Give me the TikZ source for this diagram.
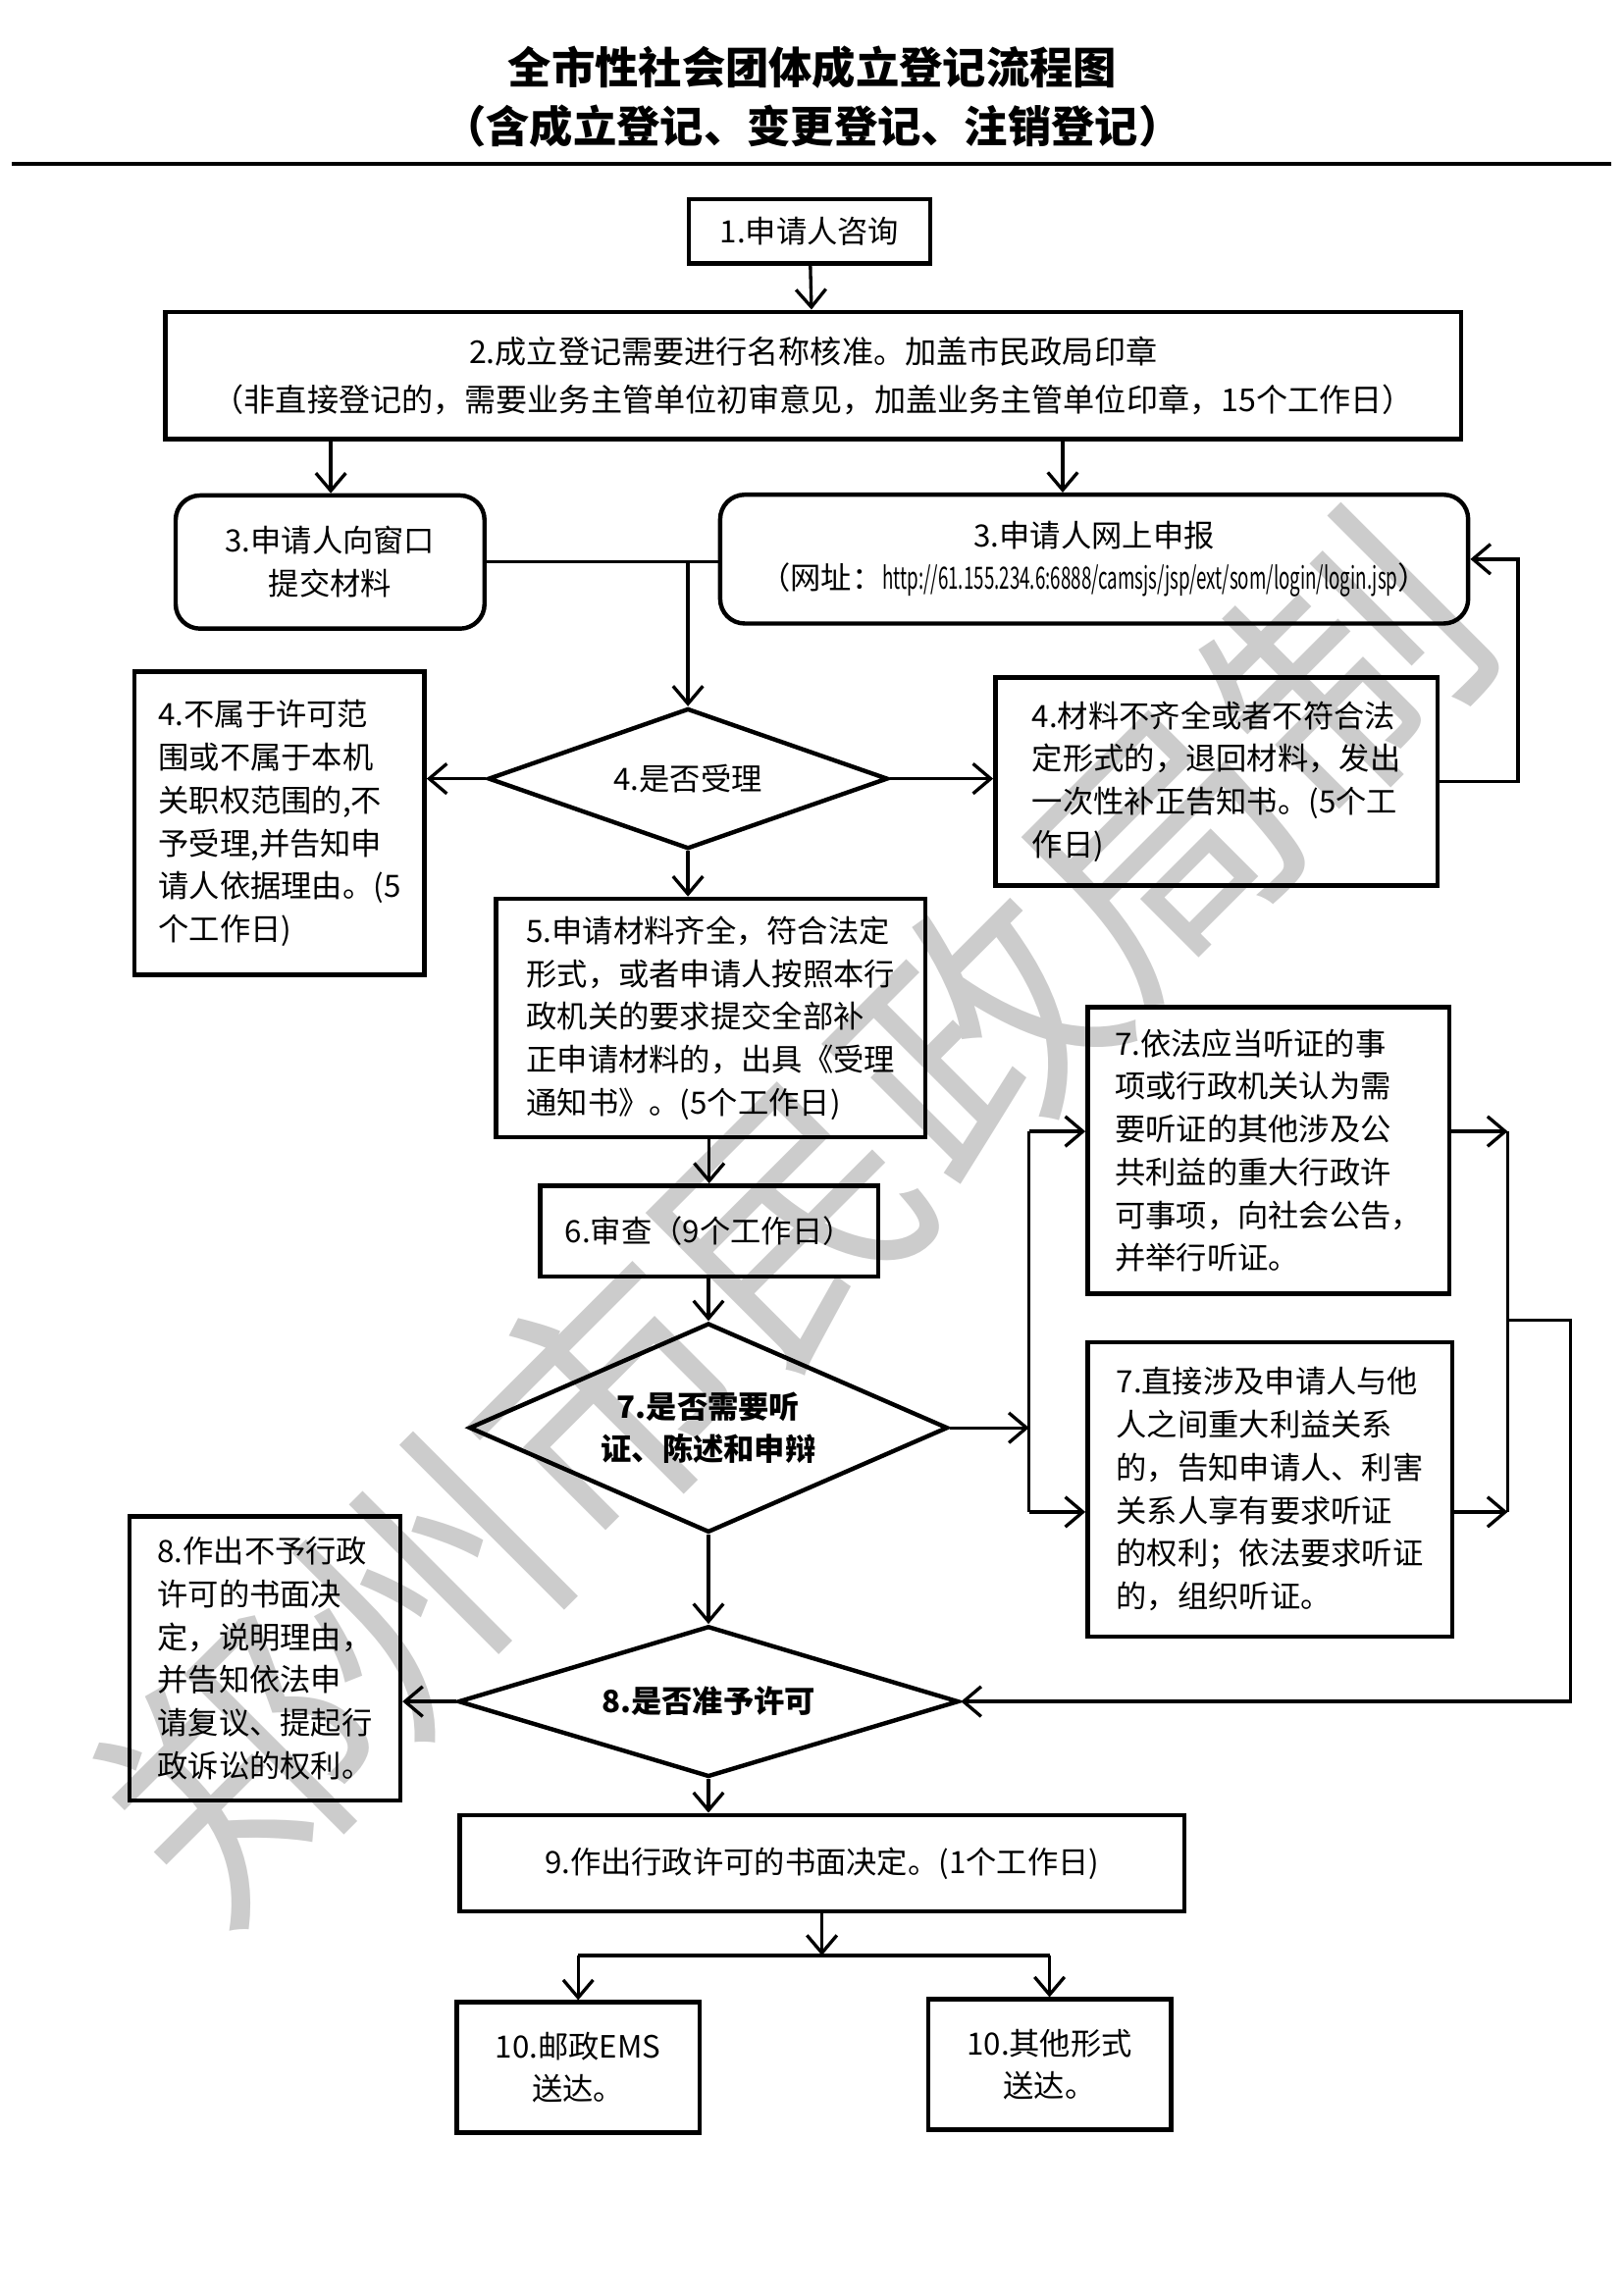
\documentclass[tikz,border=0pt]{standalone}
\usepackage{fontspec}
\setmainfont{Noto Sans CJK SC}
\usepackage{graphicx}
\usetikzlibrary{arrows.meta,positioning,calc,shapes.geometric}

\newlength\einh
\setlength\einh{0.018936cm}
\newcommand{\kastenfont}{\fontsize{11.3}{15.8}\selectfont}

\begin{document}
\begin{tikzpicture}[x=\einh, y=-\einh,
        every node/.style={font=\kastenfont},
        kasten/.style={draw, line width=1.6pt, inner sep=2pt, align=center},
        rkasten/.style={kasten, rounded corners=9pt},
        lkasten/.style={kasten, align=left},
        frage/.style={draw, diamond, line width=1.6pt, inner sep=0pt, align=center},
        pfeil/.style={line width=1.2pt, -{Straight Barb[length=6.5pt,width=11pt]}},
        linie/.style={line width=1.2pt}
      ]
        % feste Seitengroesse (A4)
        \useasboundingbox (0,0) rectangle (1109,1568);

        % Wasserzeichen
        \node[rotate=45, text=black!20, font=\fontsize{96}{96}\selectfont] (wz) at (541,832) {郑州市民政局制};

        % Titel
        \node[align=center, font=\fontsize{16}{21.5}\selectfont\bfseries] (titel) at (555,66)
          {全市性社会团体成立登记流程图\\（含成立登记、变更登记、注销登记）};
        \draw[line width=1.6pt] (8,112) -- (1101,112);

        % Kaesten
        \node[kasten, minimum width=165\einh, minimum height=44\einh] (k1) at (553,158) {1.申请人咨询};
        \node[kasten, minimum width=885\einh, minimum height=87\einh,
              font=\fontsize{11.6}{17.7}\selectfont] (k2) at (555.5,256.5)
          {2.成立登记需要进行名称核准。加盖市民政局印章\\（非直接登记的，需要业务主管单位初审意见，加盖业务主管单位印章，15个工作日）};
        \node[rkasten, minimum width=211\einh, minimum height=91\einh] (k3a) at (225.5,384) {3.申请人向窗口\\提交材料};
        \node[rkasten, minimum width=511\einh, minimum height=88\einh] (k3b) at (747.5,382)
          {3.申请人网上申报\\（网址：\scalebox{0.6}[1]{http://61.155.234.6:6888/camsjs/jsp/ext/som/login/login.jsp}）};

        \node[frage, aspect=2.85, minimum width=273\einh, minimum height=96\einh] (e4) at (470,532) {4.是否受理};
        \node[lkasten, minimum width=198\einh, minimum height=207\einh] (k4a) at (191,562.5)
          {4.不属于许可范\\围或不属于本机\\关职权范围的,不\\予受理,并告知申\\请人依据理由。(5\\个工作日)};
        \node[lkasten, minimum width=302\einh, minimum height=142\einh] (k4b) at (831,534)
          {4.材料不齐全或者不符合法\\定形式的，退回材料，发出\\一次性补正告知书。(5个工\\作日)};

        \node[lkasten, minimum width=293\einh, minimum height=163\einh] (k5) at (485.5,695.5)
          {5.申请材料齐全，符合法定\\形式，或者申请人按照本行\\政机关的要求提交全部补\\正申请材料的，出具《受理\\通知书》。(5个工作日)};
        \node[kasten, minimum width=231\einh, minimum height=62\einh] (k6) at (484.5,841) {6.审查（9个工作日）};

        \node[frage, aspect=2.3, minimum width=327\einh, minimum height=143\einh,
              font=\kastenfont\bfseries] (e7) at (484,975.5) {7.是否需要听\\证、陈述和申辩};
        \node[lkasten, minimum width=247\einh, minimum height=196\einh] (k7a) at (866.5,786)
          {7.依法应当听证的事\\项或行政机关认为需\\要听证的其他涉及公\\共利益的重大行政许\\可事项，向社会公告，\\并举行听证。};
        \node[lkasten, minimum width=249\einh, minimum height=201\einh] (k7b) at (867.5,1017.5)
          {7.直接涉及申请人与他\\人之间重大利益关系\\的，告知申请人、利害\\关系人享有要求听证\\的权利；依法要求听证\\的，组织听证。};

        \node[frage, aspect=3.3, minimum width=342\einh, minimum height=103\einh,
              font=\kastenfont\bfseries] (e8) at (484,1162.5) {8.是否准予许可};
        \node[lkasten, minimum width=185\einh, minimum height=194\einh] (k8) at (181,1133)
          {8.作出不予行政\\许可的书面决\\定，说明理由，\\并告知依法申\\请复议、提起行\\政诉讼的权利。};

        \node[kasten, minimum width=495\einh, minimum height=66\einh] (k9) at (561.5,1273)
          {9.作出行政许可的书面决定。(1个工作日)};
        \node[kasten, minimum width=166\einh, minimum height=89\einh] (k10a) at (395,1412.5) {10.邮政EMS\\送达。};
        \node[kasten, minimum width=166\einh, minimum height=89\einh] (k10b) at (717,1410.5) {10.其他形式\\送达。};

        % Hilfspunkte
        \coordinate (k2l) at (226,0);
        \coordinate (k2r) at (726,0);
        \coordinate (bl) at (703,773);
        \coordinate (bl2) at (703,1033);
        \coordinate (br) at (1030,773);
        \coordinate (br2) at (1030,1033);
        \coordinate (bm) at (1030,902);
        \coordinate (ra) at (1073,902);
        \coordinate (rr) at (1037,0);
        \coordinate (vt) at (561.5,1336);

        % Verbindungen
        \draw[pfeil] (k1) -- (k2);
        \draw[pfeil] (k2l |- k2.south) -- (k2l |- k3a.north);
        \draw[pfeil] (k2r |- k2.south) -- (k2r |- k3b.north);
        \draw[linie] (k3a.east) -- (k3a.east -| k3b.west);
        \draw[pfeil] (e4.north |- k3a.east) -- (e4.north);
        \draw[pfeil] (e4.west) -- (e4.west -| k4a.east);
        \draw[pfeil] (e4.east) -- (e4.east -| k4b.west);
        \draw[pfeil] (k4b.east) -- (k4b.east -| rr) |- (k3b.east);
        \draw[pfeil] (e4.south) -- (e4.south |- k5.north);
        \draw[pfeil] (k5.south -| k6.north) -- (k6.north);
        \draw[pfeil] (k6.south -| e7.north) -- (e7.north);
        \draw[pfeil] (e7.east) -- (e7.east -| bl);
        \draw[linie] (bl) -- (bl2);
        \draw[pfeil] (bl) -- (bl -| k7a.west);
        \draw[pfeil] (bl2) -- (bl2 -| k7b.west);
        \draw[pfeil] (br -| k7a.east) -- (br);
        \draw[pfeil] (br2 -| k7b.east) -- (br2);
        \draw[linie] (br) -- (br2);
        \draw[pfeil] (bm) -- (ra) |- (e8.east);
        \draw[pfeil] (e7.south) -- (e8.north);
        \draw[pfeil] (e8.west) -- (e8.west -| k8.east);
        \draw[pfeil] (e8.south) -- (e8.south |- k9.north);
        \draw[pfeil] (k9.south) -- (vt);
        \draw[linie] (vt -| k10a.north) -- (vt -| k10b.north);
        \draw[pfeil] (vt -| k10a.north) -- (k10a.north);
        \draw[pfeil] (vt -| k10b.north) -- (k10b.north);
      \end{tikzpicture}
\end{document}
